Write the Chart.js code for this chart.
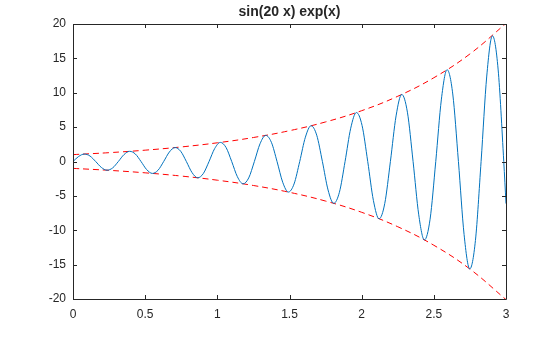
<!DOCTYPE html>
<html lang="en">
<head>
<meta charset="UTF-8">
<title>sin(20 x) exp(x)</title>
<script src="https://cdn.jsdelivr.net/npm/chart.js@4.4.0/dist/chart.umd.min.js"></script>
<style>
  html, body { margin: 0; padding: 0; background: #fff; }
  #wrap { width: 560px; height: 337px; }
</style>
</head>
<body>
<div id="wrap"><canvas id="chart" width="560" height="337"></canvas></div>
<script>
// sample points of the curve (8 per period)
var xs = [0, 0.0393, 0.0785, 0.1178, 0.1571, 0.1963, 0.2356, 0.2749, 0.3142, 0.3534,
  0.3927, 0.4320, 0.4712, 0.5105, 0.5498, 0.5890, 0.6283, 0.6676, 0.7069, 0.7461,
  0.7854, 0.8247, 0.8639, 0.9032, 0.9425, 0.9817, 1.0210, 1.0603, 1.0996, 1.1388,
  1.1781, 1.2174, 1.2566, 1.2959, 1.3352, 1.3744, 1.4137, 1.4530, 1.4923, 1.5315,
  1.5708, 1.6101, 1.6493, 1.6886, 1.7279, 1.7671, 1.8064, 1.8457, 1.8850, 1.9242,
  1.9635, 2.0028, 2.0420, 2.0813, 2.1206, 2.1598, 2.1991, 2.2384, 2.2777, 2.3169,
  2.3562, 2.3955, 2.4347, 2.4740, 2.5133, 2.5525, 2.5918, 2.6311, 2.6704, 2.7096,
  2.7489, 2.7882, 2.8274, 2.8667, 2.9060, 2.9452, 2.9845, 3.0];
var ys = [0, 0.7354, 1.0817, 0.7955, 0, -0.8605, -1.2657, -0.9308, 0, 1.0069,
  1.4810, 1.0891, 0, -1.1781, -1.7329, -1.2744, 0, 1.3785, 2.0276, 1.4912,
  0, -1.6130, -2.3725, -1.7448, 0, 1.8874, 2.7760, 2.0416, 0, -2.2084,
  -3.2482, -2.3888, 0, 2.5840, 3.8007, 2.7951, 0, -3.0235, -4.4471, -3.2705,
  0, 3.5378, 5.2035, 3.8268, 0, -4.1395, -6.0886, -4.4778, 0, 4.8436,
  7.1242, 5.2393, 0, -5.6674, -8.3359, -6.1305, 0, 6.6314, 9.7538, 7.1732,
  0, -7.7593, -11.4128, -8.3933, 0, 9.0790, 13.3539, 9.8209, 0, -10.6233,
  -15.6253, -11.4913, 0, 12.4303, 18.2831, 13.4459, 0, -6.1223];

// envelope exp(x)
var envX = [0, 0.25, 0.5, 0.75, 1, 1.25, 1.5, 1.75, 2, 2.25, 2.5, 2.75, 3];
var envUp = [1, 1.2840, 1.6487, 2.1170, 2.7183, 3.4903, 4.4817, 5.7546, 7.3891, 9.4877, 12.1825, 15.6426, 20.0855];
var envDown = [-1, -1.2840, -1.6487, -2.1170, -2.7183, -3.4903, -4.4817, -5.7546, -7.3891, -9.4877, -12.1825, -15.6426, -20.0855];

var xTicks = [0, 0.5, 1, 1.5, 2, 2.5, 3];
var yTicks = [-20, -15, -10, -5, 0, 5, 10, 15, 20];
var titleText = 'sin(20 x) exp(x)';

function pts(a, b) {
  var out = [];
  for (var i = 0; i < a.length; i++) out.push({ x: a[i], y: b[i] });
  return out;
}

var ink = '#262626';
var font = '"Liberation Sans", Arial, Helvetica, sans-serif';

// box around the axes, inward ticks, title
var boxPlugin = {
  id: 'box',
  afterDraw: function(chart) {
    var c = chart.ctx, a = chart.chartArea;
    var sx = chart.scales.x, sy = chart.scales.y;
    c.save();
    c.strokeStyle = ink;
    c.lineWidth = 1;
    c.beginPath();
    c.rect(Math.round(a.left) + 0.5, Math.round(a.top) + 0.5,
           Math.round(a.right) - Math.round(a.left), Math.round(a.bottom) - Math.round(a.top));
    xTicks.forEach(function(v) {
      var px = Math.round(sx.getPixelForValue(v)) + 0.5;
      c.moveTo(px, a.bottom); c.lineTo(px, a.bottom - 4);
      c.moveTo(px, a.top); c.lineTo(px, a.top + 4);
    });
    yTicks.forEach(function(v) {
      var py = Math.round(sy.getPixelForValue(v)) + 0.5;
      c.moveTo(a.left, py); c.lineTo(a.left + 4, py);
      c.moveTo(a.right, py); c.lineTo(a.right - 4, py);
    });
    c.stroke();
    c.fillStyle = ink;
    c.font = 'bold 14px ' + font;
    c.textAlign = 'center';
    c.textBaseline = 'middle';
    c.fillText(titleText, (a.left + a.right) / 2, 12);
    c.restore();
  }
};

new Chart(document.getElementById('chart'), {
  type: 'line',
  data: {
    datasets: [
      {
        data: pts(xs, ys),
        borderColor: '#0072BD',
        borderWidth: 1,
        pointRadius: 0,
        cubicInterpolationMode: 'monotone',
        fill: false
      },
      {
        data: pts(envX, envUp),
        borderColor: '#ff0000',
        borderWidth: 1,
        borderDash: [6, 4],
        pointRadius: 0,
        tension: 0.4,
        fill: false
      },
      {
        data: pts(envX, envDown),
        borderColor: '#ff0000',
        borderWidth: 1,
        borderDash: [6, 4],
        pointRadius: 0,
        tension: 0.4,
        fill: false
      }
    ]
  },
  options: {
    responsive: false,
    animation: false,
    layout: { padding: { top: 24, right: 54, bottom: 0, left: 0 } },
    plugins: { legend: { display: false }, tooltip: { enabled: false }, title: { display: false } },
    scales: {
      x: {
        type: 'linear',
        min: 0, max: 3,
        afterFit: function(s) { s.height = 38; },
        afterBuildTicks: function(s) { s.ticks = xTicks.map(function(v) { return { value: v }; }); },
        grid: { display: false, drawTicks: false },
        border: { display: false },
        ticks: {
          color: ink, font: { family: font, size: 12 }, padding: 8, maxRotation: 0,
          callback: function(v) { return String(v); }
        }
      },
      y: {
        type: 'linear',
        min: -20, max: 20,
        afterFit: function(s) { s.width = 73; },
        afterBuildTicks: function(s) { s.ticks = yTicks.map(function(v) { return { value: v }; }); },
        grid: { display: false, drawTicks: false },
        border: { display: false },
        ticks: {
          color: ink, font: { family: font, size: 12 }, padding: 7,
          callback: function(v) { return String(v); }
        }
      }
    }
  },
  plugins: [boxPlugin]
});
</script>
</body>
</html>
